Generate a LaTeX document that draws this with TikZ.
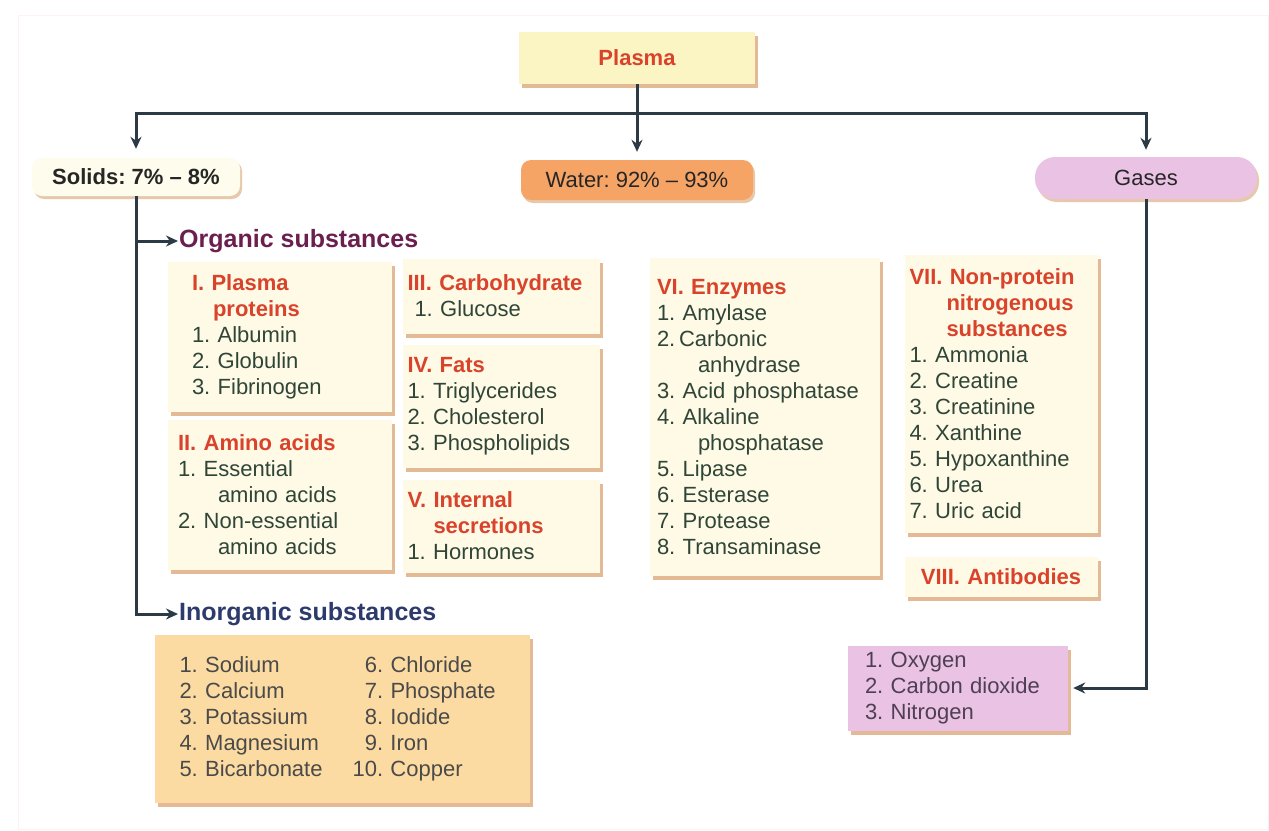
\documentclass[tikz,border=0pt]{standalone}
\usepackage{fontspec}
\setmainfont{Liberation Sans}
\usepackage{xcolor}
\usepackage{tikz}
\usetikzlibrary{positioning,calc,arrows.meta,shadows}
\definecolor{plasmafill}{HTML}{FBF4C3}
\definecolor{cream}{HTML}{FEFAE6}
\definecolor{solidsfill}{HTML}{FEFCEC}
\definecolor{waterfill}{HTML}{F6A465}
\definecolor{gasfill}{HTML}{EAC3E4}
\definecolor{inorgfill}{HTML}{FCDBA2}
\definecolor{headred}{HTML}{D9432B}
\definecolor{itemgreen}{HTML}{2F4538}
\definecolor{itemgray}{HTML}{4A4A4A}
\definecolor{gastext}{HTML}{4E3F55}
\definecolor{linedark}{HTML}{2C3A45}
\definecolor{orgpurple}{HTML}{6B1F4F}
\definecolor{inorgblue}{HTML}{2D3B6C}
\definecolor{shadowtan}{HTML}{D9A372}
\definecolor{framepink}{HTML}{FDF1F3}
\newcommand{\grouphead}[1]{{\color{headred}\bfseries #1}}
\frenchspacing

\begin{document}
\begin{tikzpicture}[x=1pt, y=-1pt, groupbox/.style={fill=cream, drop shadow={shadow xshift=3pt, shadow yshift=-4pt, fill=shadowtan, opacity=0.75}, inner ysep=4pt, align=left, font=\fontsize{22}{26}\selectfont, text=itemgreen}, topbox/.style={rounded corners=10pt, drop shadow={shadow xshift=2pt, shadow yshift=-3pt, fill=shadowtan, opacity=0.6}, inner sep=0pt, font=\fontsize{22}{26}\selectfont, text=black!85}, branchlabel/.style={anchor=west, inner sep=1pt, font=\fontsize{25}{30}\selectfont\bfseries}, arrow/.style={-{Stealth[length=12pt,width=11pt]}, draw=linedark, line width=3pt}]
\useasboundingbox (0,0) rectangle (1269,830);
\draw[framepink, line width=1pt] (18,15) rectangle (1268,829);
\node[fill=plasmafill, drop shadow={shadow xshift=3pt, shadow yshift=-4pt, fill=shadowtan, opacity=0.75}, minimum width=236pt, minimum height=52pt, font=\fontsize{22}{26}\selectfont\bfseries, text=headred] (plasma) at (637,58) {Plasma};
\node[topbox, fill=solidsfill, minimum width=208pt, minimum height=38pt, font=\fontsize{22}{26}\selectfont\bfseries] (solids) at (136,177) {Solids: 7\% – 8\%};
\node[topbox, fill=waterfill, minimum width=232pt, minimum height=40pt] (water) at (637,180) {Water: 92\% – 93\%};
\node[topbox, fill=gasfill, rounded corners=20pt, minimum width=222pt, minimum height=42pt] (gases) at (1146,178) {Gases};
\coordinate (hub) at (637,113);
\draw[arrow, shorten >=8pt] (plasma.south) -- (water.north);
\draw[arrow, shorten >=9pt] (hub) -| (solids.north);
\draw[arrow, shorten >=7pt] (hub) -| (gases.north);
\node[branchlabel, text=orgpurple] (organic) at (178,241) {Organic substances};
\node[branchlabel, text=inorgblue] (inorganic) at (178,614) {Inorganic substances};
\draw[arrow] (solids.south) |- (organic.west);
\draw[arrow] (solids.south) |- (inorganic.west);
\node[groupbox, inner xsep=24pt, text width=176pt, minimum height=150pt] (proteins) at (280,337) {\grouphead{I. Plasma}\\\grouphead{\hspace*{21pt}proteins}\\1. Albumin\\2. Globulin\\3. Fibrinogen};
\node[groupbox, inner xsep=10pt, text width=204pt, minimum height=150pt] (amino) at (280,495) {\grouphead{II. Amino acids}\\1. Essential\\\hspace*{40pt}amino acids\\2. Non-essential\\\hspace*{40pt}amino acids};
\node[groupbox, inner xsep=5pt, text width=187pt, minimum height=75pt] (carbo) at (501,296) {\grouphead{III. Carbohydrate}\\\hspace*{7pt}1. Glucose};
\node[groupbox, inner xsep=5pt, text width=187pt, minimum height=123pt] (fats) at (501,406) {\grouphead{IV. Fats}\\1. Triglycerides\\2. Cholesterol\\3. Phospholipids};
\node[groupbox, inner xsep=5pt, text width=187pt, minimum height=93pt] (secretions) at (501,526) {\grouphead{V. Internal}\\\grouphead{\hspace*{26pt}secretions}\\1. Hormones};
\node[groupbox, inner xsep=7pt, text width=216pt, minimum height=318pt] (enzymes) at (765,417) {\grouphead{VI. Enzymes}\\1. Amylase\\2.\,Carbonic\\\hspace*{41pt}anhydrase\\3. Acid phosphatase\\4. Alkaline\\\hspace*{41pt}phosphatase\\5. Lipase\\6. Esterase\\7. Protease\\8. Transaminase};
\node[groupbox, inner xsep=5pt, text width=183pt, minimum height=278pt] (nonprotein) at (1001,394) {\grouphead{VII. Non-protein}\\\grouphead{\hspace*{37pt}nitrogenous}\\\grouphead{\hspace*{37pt}substances}\\1. Ammonia\\2. Creatine\\3. Creatinine\\4. Xanthine\\5. Hypoxanthine\\6. Urea\\7. Uric acid};
\node[groupbox, inner xsep=5pt, text width=183pt, minimum height=40pt, align=center] (antibodies) at (1001,577) {\grouphead{VIII. Antibodies}};
\node[groupbox, fill=inorgfill, text=itemgray, inner xsep=25pt, text width=325pt, minimum height=168pt] (minerals) at (342,719) {\begin{tabular}{@{}l@{\hspace{30pt}}r@{\ }l@{}}1. Sodium & 6. & Chloride\\2. Calcium & 7. & Phosphate\\3. Potassium & 8. & Iodide\\4. Magnesium & 9. & Iron\\5. Bicarbonate & 10. & Copper\end{tabular}};
\node[groupbox, fill=gasfill, text=gastext, inner xsep=17pt, text width=186pt, minimum height=85pt] (gaslist) at (958,688) {1. Oxygen\\2. Carbon dioxide\\3. Nitrogen};
\draw[arrow, shorten >=5pt] (gases.south) |- (gaslist.east);
\end{tikzpicture}
\end{document}
